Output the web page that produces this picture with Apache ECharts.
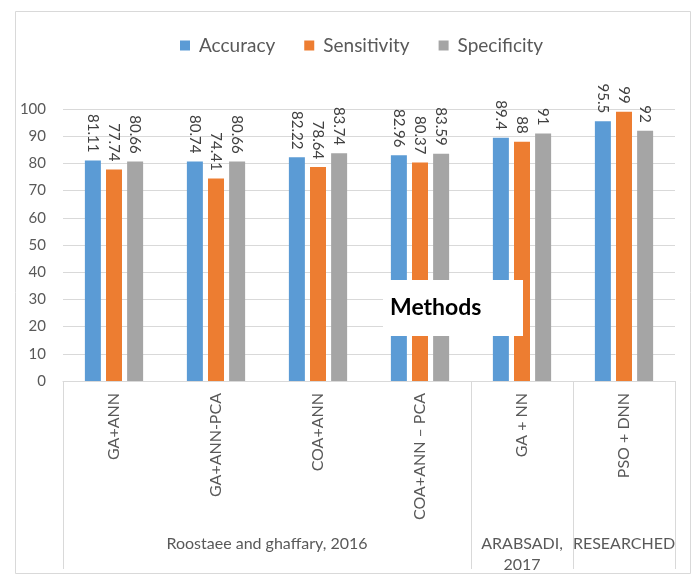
<!DOCTYPE html>
<html>
<head>
<meta charset="utf-8">
<script src="https://cdn.jsdelivr.net/npm/echarts@6/dist/echarts.min.js"></script>
<style>
  html, body { margin: 0; padding: 0; background: #fff; }
  #chart { width: 691px; height: 574px; }
</style>
</head>
<body>
<div id="chart"></div>
<script>
// Methods compared and their scores (%)
const methods = ['GA+ANN', 'GA+ANN-PCA', 'COA+ANN', 'COA+ANN \u2013 PCA', 'GA + NN', 'PSO + DNN'];
const accuracy = [81.11, 80.74, 82.22, 82.96, 89.4, 95.5];
const sensitivity = [77.74, 74.41, 78.64, 80.37, 88, 99];
const specificity = [80.66, 80.66, 83.74, 83.59, 91, 92];

// Source groups: name, centre position along the category span, and boundaries
const groupNames = ['Roostaee and ghaffary, 2016', 'ARABSADI,\n2017', 'RESEARCHED'];
const groupCentres = [2, 4.5, 5.5];
const groupBounds = [0, 4, 5, 6];

const yTicks = { min: 0, max: 100, interval: 10 };

const FONT = 'Lato';
const TEXT = '#595959';
const GRID = '#d9d9d9';

const chart = echarts.init(document.getElementById('chart'));

const labelCfg = {
  show: true,
  position: 'top',
  rotate: -90,
  align: 'right',
  verticalAlign: 'middle',
  distance: 8,
  color: '#404040',
  fontFamily: FONT,
  fontSize: 15
};

function barSeries(name, data, color) {
  return {
    name: name,
    type: 'bar',
    data: data,
    barWidth: 16,
    barGap: '32%',
    itemStyle: { color: color },
    label: labelCfg
  };
}

const groupLookup = {};
groupCentres.forEach((c, i) => { groupLookup[c] = groupNames[i]; });

chart.setOption({
  animation: false,
  backgroundColor: '#fff',
  textStyle: { fontFamily: FONT },
  legend: {
    top: 31,
    left: 175,
    icon: 'rect',
    itemWidth: 10,
    itemHeight: 10,
    itemGap: 29,
    textStyle: { color: TEXT, fontSize: 19, fontFamily: FONT, padding: [0, 0, 0, 4] },
    data: ['Accuracy', 'Sensitivity', 'Specificity']
  },
  grid: { left: 63, right: 16, top: 109, bottom: 193, outerBoundsMode: 'none' },
  xAxis: [
    {
      type: 'category',
      data: methods,
      axisTick: { show: false },
      axisLine: { lineStyle: { color: GRID } },
      axisLabel: {
        rotate: 90,
        interval: 0,
        margin: 12,
        color: TEXT,
        fontSize: 16,
        fontFamily: FONT
      }
    },
    {
      type: 'value',
      min: 0,
      max: 6,
      position: 'bottom',
      axisLine: { show: false },
      splitLine: { show: false },
      axisTick: {
        show: true,
        customValues: groupBounds,
        length: 188,
        lineStyle: { color: GRID }
      },
      axisLabel: {
        customValues: groupCentres,
        formatter: v => groupLookup[v] || '',
        margin: 152,
        color: TEXT,
        fontSize: 16,
        lineHeight: 21,
        fontFamily: FONT
      }
    }
  ],
  yAxis: {
    type: 'value',
    min: yTicks.min,
    max: yTicks.max,
    interval: yTicks.interval,
    axisLine: { show: false },
    axisTick: { show: false },
    splitLine: { lineStyle: { color: GRID } },
    axisLabel: { margin: 17, color: TEXT, fontSize: 15, fontFamily: FONT }
  },
  series: [
    barSeries('Accuracy', accuracy, '#5B9BD5'),
    barSeries('Sensitivity', sensitivity, '#ED7D31'),
    barSeries('Specificity', specificity, '#A5A5A5')
  ],
  graphic: [
    {
      type: 'rect',
      left: 13, top: 9,
      z: 100,
      shape: { width: 675, height: 562 },
      style: { fill: 'none', stroke: GRID, lineWidth: 1 },
      silent: true
    },
    {
      type: 'group',
      left: 383, top: 280,
      z: 100,
      children: [
        {
          type: 'rect',
          z: 100,
          shape: { x: 0, y: 0, width: 140, height: 56 },
          style: { fill: '#fff' }
        },
        {
          type: 'text',
          z: 101,
          x: 7, y: 28,
          style: {
            text: 'Methods',
            fill: '#000',
            font: 'bold 23px ' + FONT,
            verticalAlign: 'middle'
          }
        }
      ]
    }
  ]
});
</script>
</body>
</html>
